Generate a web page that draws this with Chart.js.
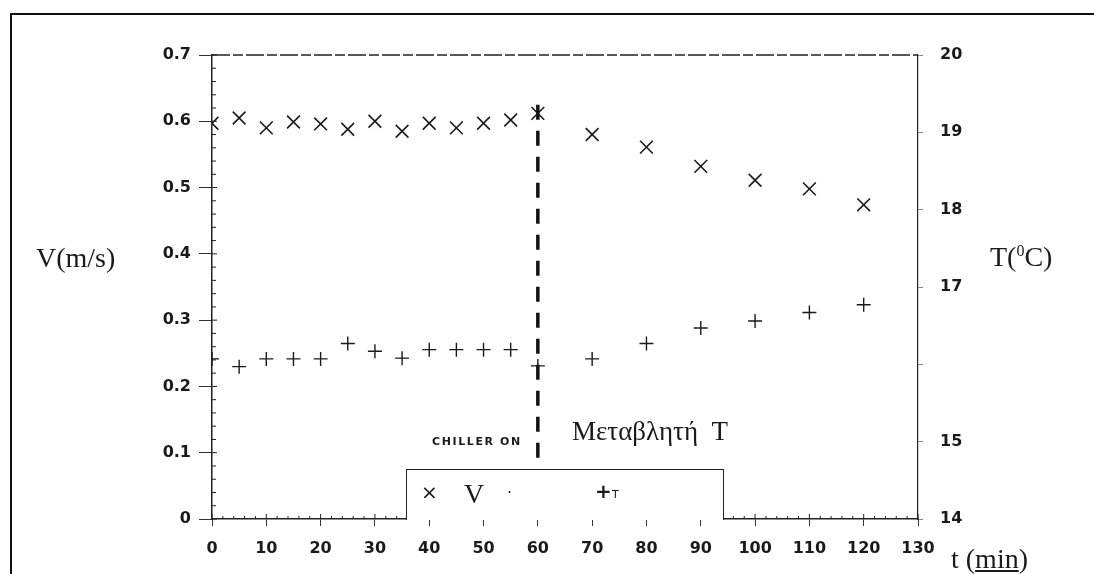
<!DOCTYPE html>
<html lang="el">
<head>
  <meta charset="UTF-8" />
  <title>V και T συναρτήσει του χρόνου</title>
  <script src="https://cdn.jsdelivr.net/npm/chart.js"></script>
  <style>
    html, body { margin: 0; padding: 0; background: #fff; overflow: hidden; }
    #wrap { position: relative; width: 1094px; height: 574px; }
    #frame { position: absolute; left: 10px; top: 13px; width: 1200px; height: 700px;
             border-left: 2px solid #111; border-top: 2px solid #111; }
    .lbl { position: absolute; color: #1a1a1a; white-space: nowrap; line-height: 1; }
    .serif { font-family: "Liberation Serif", "DejaVu Serif", serif; }
    #legendBox { position: absolute; left: 406px; top: 469px; width: 318px; height: 51px;
                 box-sizing: border-box; border: 1.5px solid #222; border-bottom: none; background: #fff; }
  </style>
</head>
<body>
<div id="wrap">
  <div id="frame"></div>
  <canvas id="chart"></canvas>

  <div class="lbl serif" style="left:36px; top:244px; font-size:28px;">V(m/s)</div>
  <div class="lbl serif" style="left:990px; top:243px; font-size:28px;">T(<sup style="font-size:16px;">0</sup>C)</div>
  <div class="lbl serif" style="left:951px; top:545px; font-size:28px;">t (<u>min</u>)</div>

  <div class="lbl" style="left:432px; top:436px; font-family:'DejaVu Sans', sans-serif; font-weight:bold; font-size:11px; letter-spacing:1.6px;">CHILLER ON</div>
  <div class="lbl serif" style="left:572px; top:418px; font-size:27px;">Μεταβλητή&nbsp; T</div>

  <div id="legendBox"></div>
  <div class="lbl" style="left:421px; top:482px; font-family:'DejaVu Sans', sans-serif; font-size:20px;">×</div>
  <div class="lbl serif" style="left:464px; top:480px; font-size:28px;">V</div>
  <div class="lbl" style="left:507px; top:485px; font-family:'DejaVu Sans', sans-serif; font-size:16px;">·</div>
  <div class="lbl" style="left:595px; top:481px; font-family:'DejaVu Sans', sans-serif; font-weight:bold; font-size:20px;">+</div>
  <div class="lbl" style="left:612px; top:489px; font-family:'DejaVu Sans', sans-serif; font-size:11px;">T</div>
</div>

<script>
// time (min) of each measurement
const timeMin = [0, 5, 10, 15, 20, 25, 30, 35, 40, 45, 50, 55, 60, 70, 80, 90, 100, 110, 120];
// velocity V (m/s), left axis
const velocity = [0.597, 0.605, 0.590, 0.599, 0.596, 0.588, 0.600, 0.585, 0.597, 0.590, 0.597, 0.602, 0.612,
                  0.580, 0.561, 0.532, 0.511, 0.498, 0.474];
// temperature T (°C), right axis
const temperature = [16.07, 15.97, 16.07, 16.07, 16.07, 16.27, 16.17, 16.08, 16.19, 16.19, 16.19, 16.19, 15.98,
                     16.07, 16.27, 16.47, 16.56, 16.67, 16.77];
// chiller switched on at t = 60 min (dashed marker, in V units)
const chillerTime = 60;
const chillerSpan = [0.625, 0.09];

const xTicks = { min: 0, max: 130, step: 10, minor: 2 };
const vTicks = { min: 0, max: 0.7, step: 0.1, minor: 0.02 };
const tTicks = { min: 14, max: 20, step: 1, hidden: [16] };

const ink = '#1a1a1a';
const tickFont = { family: "'DejaVu Sans', sans-serif", size: 16, weight: 'bold' };

// extra axis details: dashed top border and minor ticks
const axisDetails = {
  id: 'axisDetails',
  afterDraw(chart) {
    const { ctx, chartArea: a, scales } = chart;
    ctx.save();
    ctx.strokeStyle = '#222';
    ctx.lineWidth = 1.4;
    ctx.setLineDash([18, 3, 10, 3]);
    ctx.beginPath();
    ctx.moveTo(a.left, a.top);
    ctx.lineTo(a.right, a.top);
    ctx.stroke();
    ctx.setLineDash([]);

    ctx.lineWidth = 1;
    ctx.beginPath();
    for (let v = vTicks.min; v <= vTicks.max + 1e-9; v += vTicks.minor) {
      const y = scales.y.getPixelForValue(v);
      const major = Math.abs(v / vTicks.step - Math.round(v / vTicks.step)) < 1e-6;
      ctx.moveTo(a.left, y);
      ctx.lineTo(a.left + (major ? 5 : 4), y);
    }
    for (let t = xTicks.min; t <= xTicks.max; t += xTicks.minor) {
      const x = scales.x.getPixelForValue(t);
      const major = t % xTicks.step === 0;
      ctx.moveTo(x, a.bottom);
      ctx.lineTo(x, a.bottom - (major ? 5 : 3));
    }
    ctx.stroke();
    ctx.restore();
  }
};

new Chart(document.getElementById('chart'), {
  type: 'scatter',
  data: {
    datasets: [
      {
        label: 'V',
        data: timeMin.map((t, i) => ({ x: t, y: velocity[i] })),
        yAxisID: 'y',
        pointStyle: 'crossRot',
        pointRadius: 9,
        pointBorderWidth: 1.6,
        borderColor: ink,
        backgroundColor: ink
      },
      {
        label: 'T',
        data: timeMin.map((t, i) => ({ x: t, y: temperature[i] })),
        yAxisID: 'y2',
        pointStyle: 'cross',
        pointRadius: 7,
        pointBorderWidth: 1.4,
        borderColor: ink,
        backgroundColor: ink
      },
      {
        type: 'line',
        label: 'chiller',
        data: chillerSpan.map(v => ({ x: chillerTime, y: v })),
        yAxisID: 'y',
        borderColor: '#111',
        borderWidth: 3.5,
        borderDash: [15, 11],
        pointRadius: 0,
        fill: false
      }
    ]
  },
  options: {
    responsive: true,
    maintainAspectRatio: false,
    animation: false,
    layout: { padding: { top: 55, left: 0, right: 0, bottom: 0 } },
    plugins: { legend: { display: false }, tooltip: { enabled: false } },
    scales: {
      x: {
        type: 'linear',
        position: 'bottom',
        min: xTicks.min, max: xTicks.max,
        afterFit: s => { s.height = 55; },
        ticks: { stepSize: xTicks.step, color: ink, font: tickFont, padding: 13, maxRotation: 0 },
        grid: { drawOnChartArea: false, drawTicks: true, tickLength: 7, color: '#333' },
        border: { display: true, color: '#222', width: 1.5 }
      },
      y: {
        position: 'left',
        min: vTicks.min, max: vTicks.max,
        afterFit: s => { s.width = 212; },
        ticks: { stepSize: vTicks.step, color: ink, font: tickFont, padding: 8,
                 callback: v => Number(v.toFixed(1)).toString() },
        grid: { drawOnChartArea: false, drawTicks: true, tickLength: 13, color: '#333' },
        border: { display: true, color: '#222', width: 1.5 }
      },
      y2: {
        position: 'right',
        min: tTicks.min, max: tTicks.max,
        afterFit: s => { s.width = 176; },
        ticks: { stepSize: tTicks.step, color: ink, font: tickFont, padding: 17,
                 callback: v => tTicks.hidden.includes(v) ? '' : v },
        grid: { drawOnChartArea: false, drawTicks: true, tickLength: 5, color: '#888' },
        border: { display: true, color: '#222', width: 1.2 }
      }
    }
  },
  plugins: [axisDetails]
});
</script>
</body>
</html>
